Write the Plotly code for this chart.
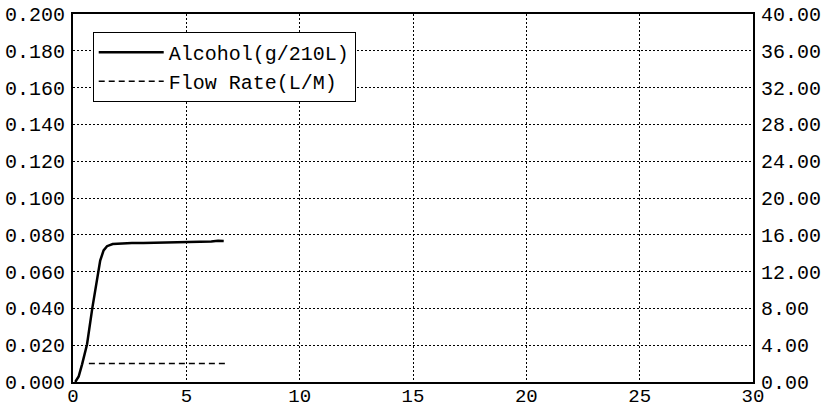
import plotly.graph_objects as go

# Alcohol (g/210L) readings vs time
alcohol_t = [0.1, 0.25, 0.4, 0.62, 0.85, 1.0, 1.2, 1.35, 1.5, 1.75, 2.1, 2.6, 3.1, 3.6, 4.1, 4.6, 5.0, 5.3, 5.7, 6.1, 6.4, 6.65]
alcohol_v = [0.000, 0.003, 0.0096, 0.0205, 0.040, 0.052, 0.066, 0.0715, 0.0738, 0.0750, 0.0754, 0.0756, 0.0756, 0.0757, 0.0759, 0.0760, 0.0761, 0.0759, 0.0762, 0.0764, 0.0767, 0.0766]

# Flow rate (L/M) readings vs time
flow_t = [0.7, 1.5, 2.5, 3.5, 4.5, 5.5, 6.7]
flow_v = [2.0, 2.0, 2.0, 2.0, 2.0, 2.0, 2.0]

x_ticks = [0, 5, 10, 15, 20, 25, 30]
left_ticks = [0.000, 0.020, 0.040, 0.060, 0.080, 0.100, 0.120, 0.140, 0.160, 0.180, 0.200]
right_ticks = [0, 4, 8, 12, 16, 20, 24, 28, 32, 36, 40]

FONT = "Liberation Mono, Courier New, monospace"

fig = go.Figure()
fig.add_trace(go.Scatter(x=alcohol_t, y=alcohol_v, mode="lines", name="Alcohol(g/210L)",
                         line=dict(color="black", width=2.5), yaxis="y"))
fig.add_trace(go.Scatter(x=flow_t, y=flow_v, mode="lines", name="Flow Rate(L/M)",
                         line=dict(color="black", width=1.5, dash="6px,4px"), yaxis="y2"))

grid = dict(showgrid=True, gridcolor="black", gridwidth=1, griddash="2px,2px")

fig.update_layout(
    width=830, height=407,
    margin=dict(l=73, r=77, t=14, b=25, autoexpand=False),
    paper_bgcolor="white", plot_bgcolor="white",
    font=dict(family=FONT, size=20, color="black"),
    showlegend=True,
    legend=dict(x=0.029, y=0.952, xanchor="left", yanchor="top",
                bgcolor="white", bordercolor="black", borderwidth=1,
                font=dict(family=FONT, size=20, color="black"),
                itemwidth=65, tracegroupgap=0),
    xaxis=dict(range=[0, 30], tickvals=x_ticks, ticktext=[str(v) for v in x_ticks],
               tickfont=dict(family=FONT, size=19, color="black"),
               showline=True, linecolor="black", linewidth=2, mirror=True,
               ticks="", zeroline=False, automargin=False, ticklabelstandoff=-5, **grid),
    yaxis=dict(range=[0, 0.2], tickvals=left_ticks, ticktext=["%.3f" % v for v in left_ticks],
               showline=True, linecolor="black", linewidth=2, mirror=True,
               ticks="", zeroline=False, automargin=False, ticklabelstandoff=2, **grid),
    yaxis2=dict(range=[0, 40], tickvals=right_ticks, ticktext=["%.2f" % v for v in right_ticks],
                overlaying="y", side="right", showgrid=False, showline=False,
                ticks="", zeroline=False, automargin=False, ticklabelstandoff=7),
)

fig.write_html("out.html", config={"displayModeBar": False},
               post_script="document.body.style.margin='0';document.body.style.overflow='hidden';")
